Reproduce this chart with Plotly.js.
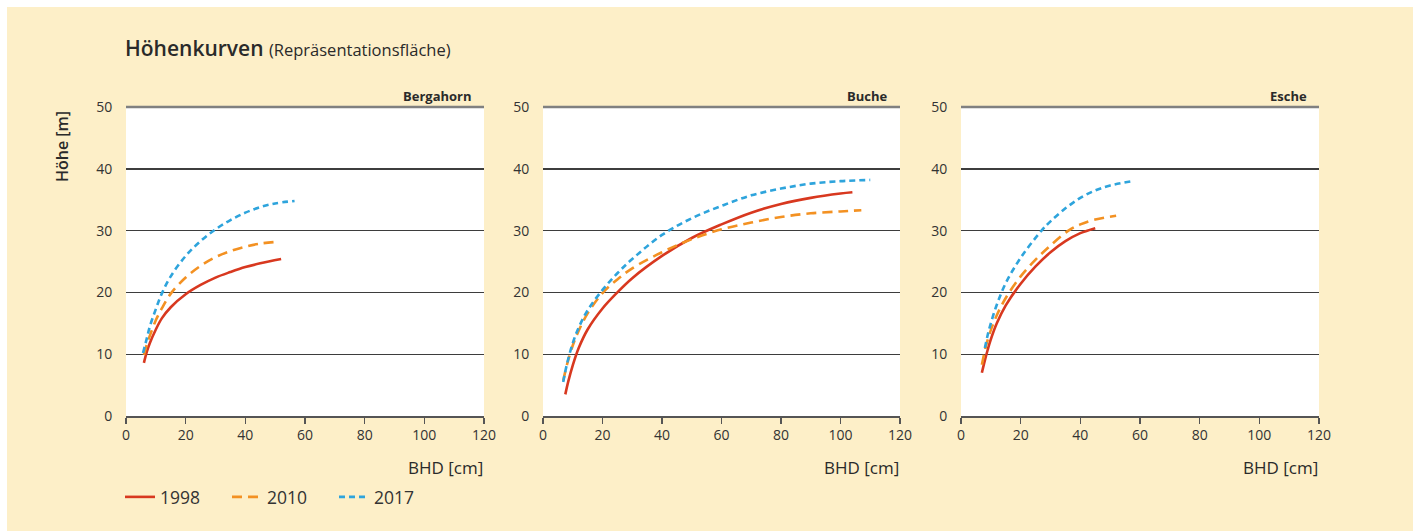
<!DOCTYPE html>
<html>
<head>
<meta charset="utf-8">
<script src="https://cdn.plot.ly/plotly-3.0.1.min.js"></script>
<style>html,body{margin:0;padding:0;background:#fff;}#chart{width:1413px;height:531px;}</style>
</head>
<body>
<div id="chart"></div>
<script>
// ---- Data ----
const species = ["Bergahorn", "Buche", "Esche"];
const years = ["1998", "2010", "2017"];

// Bergahorn
const berg1998x = [6, 7, 8, 10, 12, 15, 20, 25, 30, 35, 40, 45, 52];
const berg1998y = [8.6, 10.4, 11.8, 14.0, 15.8, 17.6, 19.7, 21.2, 22.4, 23.3, 24.1, 24.7, 25.4];
const berg2010x = [6, 7, 8, 10, 12, 15, 20, 25, 30, 35, 40, 45, 51];
const berg2010y = [9.9, 11.6, 13.0, 15.5, 17.4, 19.8, 22.4, 24.3, 25.7, 26.7, 27.4, 27.9, 28.2];
const berg2017x = [5.7, 7, 8, 10, 12, 15, 20, 25, 30, 35, 40, 45, 50, 56.5];
const berg2017y = [10.2, 12.6, 14.5, 17.3, 19.8, 22.6, 25.9, 28.3, 30.2, 31.7, 32.9, 33.8, 34.4, 34.8];

// Buche
const buche1998x = [7.5, 8.5, 10, 12, 15, 20, 25, 30, 40, 50, 60, 70, 80, 90, 100, 104];
const buche1998y = [3.5, 5.6, 8.2, 11.0, 14.0, 17.4, 20.0, 22.3, 25.9, 28.8, 31.0, 32.9, 34.3, 35.3, 36.0, 36.2];
const buche2010x = [6.8, 8, 10, 12, 15, 20, 25, 30, 40, 50, 60, 70, 80, 90, 100, 107];
const buche2010y = [5.7, 8.2, 11.4, 13.8, 16.6, 19.9, 22.1, 23.9, 26.5, 28.6, 30.2, 31.3, 32.2, 32.8, 33.1, 33.3];
const buche2017x = [6.8, 8, 10, 12, 15, 20, 25, 30, 40, 50, 60, 70, 80, 90, 100, 110];
const buche2017y = [5.5, 8.3, 11.8, 14.3, 17.1, 20.4, 23.1, 25.4, 29.3, 32.0, 34.0, 35.7, 36.8, 37.6, 38.0, 38.2];

// Esche
const esche1998x = [7, 8, 9, 10, 12, 15, 20, 25, 30, 35, 40, 45];
const esche1998y = [7.0, 9.0, 10.8, 12.4, 15.0, 17.9, 21.4, 24.2, 26.5, 28.3, 29.6, 30.4];
const esche2010x = [7, 8, 9, 10, 12, 15, 20, 25, 30, 36, 40, 45, 52];
const esche2010y = [8.3, 10.6, 12.4, 13.9, 16.3, 19.1, 22.6, 25.3, 27.6, 30.0, 31.0, 31.8, 32.4];
const esche2017x = [8, 9, 10, 12, 15, 20, 27, 30, 35, 40, 45, 50, 57.5];
const esche2017y = [11.0, 13.2, 15.0, 18.0, 21.5, 25.6, 30.0, 31.5, 33.6, 35.3, 36.5, 37.3, 38.0];

const xTicks = [0, 20, 40, 60, 80, 100, 120];
const yTicks = [0, 10, 20, 30, 40, 50];

// ---- Styles ----
const colors = {"1998": "#d8381f", "2010": "#f39122", "2017": "#2ea4dc"};
const dashes = {"1998": "solid", "2010": "10px,6px", "2017": "6px,4px"};
const FONT = "Open Sans, Noto Sans, sans-serif";
const W = 1413, H = 531;

const seriesData = [
  [[berg1998x, berg1998y], [berg2010x, berg2010y], [berg2017x, berg2017y]],
  [[buche1998x, buche1998y], [buche2010x, buche2010y], [buche2017x, buche2017y]],
  [[esche1998x, esche1998y], [esche2010x, esche2010y], [esche2017x, esche2017y]]
];

const xPix = [[126, 484], [543, 900], [961, 1319]];
const yPix = [107, 416];

const traces = [];
seriesData.forEach((sp, i) => {
  sp.forEach((s, j) => {
    const yr = years[j];
    traces.push({
      x: s[0], y: s[1], type: "scatter", mode: "lines",
      name: yr, legendgroup: yr, showlegend: i === 0,
      xaxis: i === 0 ? "x" : "x" + (i + 1),
      yaxis: i === 0 ? "y" : "y" + (i + 1),
      line: {color: colors[yr], width: 2.6, dash: dashes[yr], shape: "spline", smoothing: 1},
      hoverinfo: "skip"
    });
  });
});

const layout = {
  width: W, height: H,
  margin: {l: 0, r: 0, t: 0, b: 0},
  paper_bgcolor: "#fdefc8",
  plot_bgcolor: "#ffffff",
  font: {family: FONT, color: "#333333", size: 14},
  showlegend: true,
  legend: {
    orientation: "h", x: 120 / W, y: 1 - 497 / H, xanchor: "left", yanchor: "middle",
    bgcolor: "rgba(0,0,0,0)", font: {size: 17.5, color: "#333", family: FONT},
    entrywidth: 62, entrywidthmode: "pixels", itemwidth: 30, tracegroupgap: 0
  },
  shapes: [
    {type: "rect", xref: "paper", yref: "paper", x0: 0, x1: 1, y0: 1 - 7 / H, y1: 1,
     fillcolor: "#ffffff", line: {width: 0}, layer: "above"},
    {type: "rect", xref: "paper", yref: "paper", x0: 0, x1: 7 / W, y0: 0, y1: 1,
     fillcolor: "#ffffff", line: {width: 0}, layer: "above"}
  ],
  annotations: [
    {xref: "paper", yref: "paper", x: 123 / W, y: 1 - 48 / H, xanchor: "left", yanchor: "middle",
     text: "<span style='font-weight:600'>Höhenkurven</span> <span style='font-size:16.5px'>(Repräsentationsfläche)</span>",
     showarrow: false, font: {size: 21, color: "#2a2a2a", family: FONT}},
    {xref: "paper", yref: "paper", x: 62 / W, y: 1 - 147 / H, xanchor: "center", yanchor: "middle",
     text: "<span style='font-weight:600'>Höhe [m]</span>", textangle: -90, showarrow: false,
     font: {size: 16, color: "#2a2a2a", family: FONT}}
  ]
};

species.forEach((name, i) => {
  const sx = i === 0 ? "" : String(i + 1);
  const d = [xPix[i][0] / W, xPix[i][1] / W];
  layout["xaxis" + sx] = {
    domain: d, range: [0, 120], anchor: "y" + sx,
    tickvals: xTicks, ticktext: xTicks.map(String),
    showgrid: false, zeroline: false, showline: true, linecolor: "#555", linewidth: 1.5,
    ticks: "outside", ticklen: 6, tickcolor: "#555", tickwidth: 1.5,
    tickfont: {size: 14, color: "#333"}, fixedrange: true
  };
  layout["yaxis" + sx] = {
    domain: [1 - yPix[1] / H, 1 - yPix[0] / H], range: [0, 50], anchor: "x" + sx,
    tickvals: yTicks, ticktext: yTicks.map(String),
    showgrid: true, gridcolor: "#3d3d3d", gridwidth: 1.4, zeroline: false, showline: false,
    ticks: "outside", ticklen: 10, tickcolor: "rgba(0,0,0,0)",
    tickfont: {size: 14, color: "#333"}, fixedrange: true
  };
  // top border line (50) in lighter gray
  layout.shapes.push({type: "line", xref: "x" + sx + " domain", yref: "paper",
    x0: 0, x1: 1, y0: 1 - yPix[0] / H, y1: 1 - yPix[0] / H, line: {color: "#808080", width: 2.5}});
  // species label
  layout.annotations.push({xref: "paper", yref: "paper", x: (xPix[i][1] - 10) / W, y: 1 - 96 / H,
    xanchor: "right", yanchor: "middle", text: "<b>" + name + "</b>", showarrow: false,
    font: {size: 13, color: "#2a2a2a", family: FONT}});
  // x-axis title
  layout.annotations.push({xref: "paper", yref: "paper", x: xPix[i][1] / W + 0.001, y: 1 - 467 / H,
    xanchor: "right", yanchor: "middle", text: "BHD [cm]", showarrow: false,
    font: {size: 17, color: "#2a2a2a", family: FONT}});
});

Plotly.newPlot("chart", traces, layout, {displayModeBar: false, staticPlot: true});
</script>
</body>
</html>
